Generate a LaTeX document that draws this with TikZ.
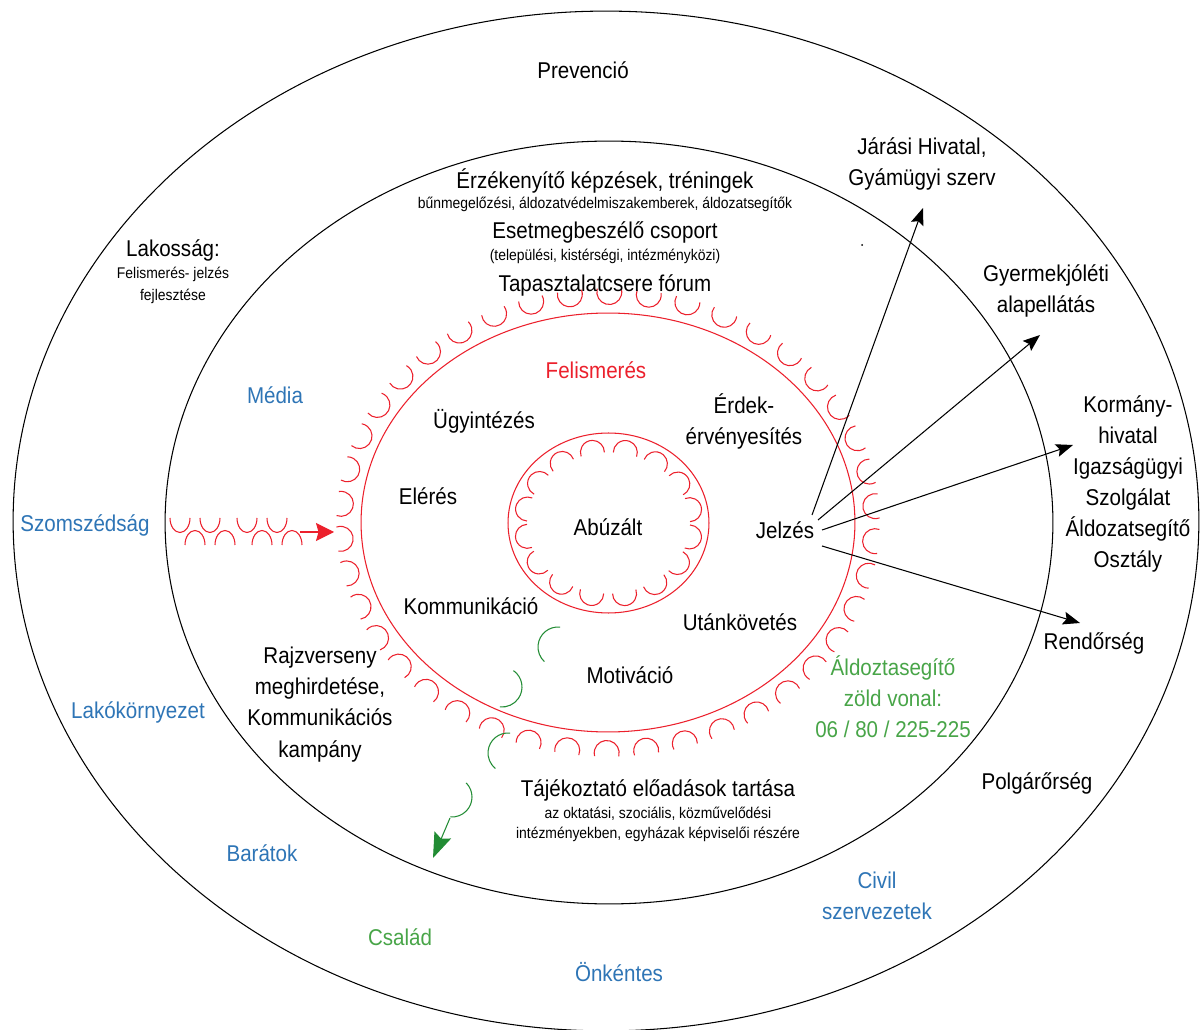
\documentclass[tikz,border=0pt]{standalone}
\usepackage{fontspec}
\setmainfont{Liberation Sans}[FakeStretch=0.9]
\usetikzlibrary{arrows.meta}
\definecolor{myblue}{RGB}{46,117,182}
\definecolor{myred}{RGB}{236,32,44}
\definecolor{mygreen}{RGB}{72,165,72}
\definecolor{dgreen}{RGB}{34,140,52}
\begin{document}
\begin{tikzpicture}[x=0.02cm,y=0.02cm,
  lab/.style={inner sep=0pt, font=\fontsize{13}{17.7}\selectfont, align=center},
  sm/.style={inner sep=0pt, font=\fontsize{8.8}{11.3}\selectfont, align=center},
  bl/.style={lab, text=myblue},
  rd/.style={lab, text=myred},
  gr/.style={lab, text=mygreen},
  ring/.style={draw=black, line width=0.6pt},
  redring/.style={draw=myred, line width=0.6pt},
  cup/.style={draw=myred, line width=0.6pt},
  gcup/.style={draw=dgreen, line width=0.6pt},
  arr/.style={draw=black, line width=0.6pt, -{Stealth[length=0.34cm,width=0.26cm,inset=0.06cm]}}
]
\useasboundingbox (0,0) rectangle (1201,-1030);
\clip (0,0) rectangle (1201,-1030);
\fill[white] (0,0) rectangle (1201,-1030);

% rings
\draw[ring] (606,-521) ellipse [x radius=11.86cm, y radius=10.2cm];
\draw[ring] (609,-522.5) ellipse [x radius=8.88cm, y radius=7.63cm];
\draw[redring] (608,-522.5) ellipse [x radius=4.94cm, y radius=4.19cm];
\draw[redring] (608.5,-523) ellipse [x radius=2.01cm, y radius=1.8cm];

% outer scallops (open outward)
\foreach \i in {0,...,41}{
  \pgfmathsetmacro\t{\i*360/42+4}
  \pgfmathsetmacro\ph{atan2(247*sin(\t),209.5*cos(\t))}
  \pgfmathsetmacro\cx{608+247*cos(\t)+21*cos(\ph)}
  \pgfmathsetmacro\cy{-522.5+209.5*sin(\t)+21*sin(\ph)}
  \pgfmathsetmacro\sa{\ph+180-105}
  \pgfmathsetmacro\ea{\ph+180+105}
  \draw[cup] (\cx,\cy) ++(\sa:0.25cm) arc[start angle=\sa, end angle=\ea, radius=0.25cm];
}
% inner scallops (open inward)
\foreach \i in {0,...,15}{
  \pgfmathsetmacro\t{\i*22.5+11}
  \pgfmathsetmacro\ph{atan2(100.5*sin(\t),90*cos(\t))}
  \pgfmathsetmacro\cx{608.5+100.5*cos(\t)-18*cos(\ph)}
  \pgfmathsetmacro\cy{-523+90*sin(\t)-18*sin(\ph)}
  \pgfmathsetmacro\sa{\ph-100}
  \pgfmathsetmacro\ea{\ph+100}
  \draw[cup] (\cx,\cy) ++(\sa:0.24cm) arc[start angle=\sa, end angle=\ea, radius=0.24cm];
}

% red wavy arrow from the left
\foreach \x in {180,210,247,277}{
  \draw[cup] (\x-10,-518) arc[start angle=180, end angle=360, x radius=0.2cm, y radius=0.29cm];
}
\foreach \x in {195,225,262,292}{
  \draw[cup] (\x-10,-545) arc[start angle=180, end angle=0, x radius=0.2cm, y radius=0.29cm];
}
\coordinate (ra) at (300,-532);
\coordinate (rb) at (334,-532);
\draw[draw=myred, line width=0.6pt, -{Stealth[length=0.36cm,width=0.36cm,inset=0.05cm]}, color=myred] (ra) -- (rb);

% green wavy arrow
\draw[gcup] (558,-647) ++(84:0.4cm) arc[start angle=84, end angle=227, radius=0.4cm];
\draw[gcup] (502,-687) ++(55:0.4cm) arc[start angle=55, end angle=-96, radius=0.4cm];
\draw[gcup] (508,-753) ++(84:0.4cm) arc[start angle=84, end angle=231, radius=0.4cm];
\draw[gcup] (452,-797) ++(45:0.4cm) arc[start angle=45, end angle=-95, radius=0.4cm];
\coordinate (ga) at (450,-818);
\coordinate (gb) at (433,-858);
\draw[draw=dgreen, line width=0.6pt, color=dgreen, -{Stealth[length=0.5cm,width=0.36cm,inset=0.08cm]}] (ga) -- (gb);

% small dot
\fill (862,-245) circle[radius=0.02cm];

% texts outer ring
\node[lab] (prev) at (583,-70) {Prevenció};
\node[lab] (lak) at (173,-250) {Lakosság:};
\node[sm] (lak2) at (173,-274) {Felismerés- jelzés};
\node[sm] (lak3) at (173,-296) {fejlesztése};
\node[bl] (szom) at (85,-525) {Szomszédság};
\node[bl] (lako) at (138,-712) {Lakókörnyezet};
\node[bl] (bar) at (262,-853) {Barátok};
\node[gr] (csal) at (400,-937) {Család};
\node[bl] (onk) at (619,-972) {Önkéntes};
\node[bl] (civil) at (877,-896) {Civil\\szervezetek};
\node[lab] (polg) at (1037,-783) {Polgárőrség};
\node[lab] (rend) at (1094,-643) {Rendőrség};
\node[lab] (korm) at (1128,-484) {Kormány-\\hivatal\\Igazságügyi\\Szolgálat\\Áldozatsegítő\\Osztály};
\node[lab] (gyer) at (1046,-291) {Gyermekjóléti\\alapellátás};
\node[lab] (jar) at (922,-164) {Járási Hivatal,\\Gyámügyi szerv};

% texts middle ring
\node[bl] (media) at (275,-395) {Média};
\node[lab] (erz) at (605,-181) {Érzékenyítő képzések, tréningek};
\node[sm] (erz2) at (605,-204) {bűnmegelőzési, áldozatvédelmiszakemberek, áldozatsegítők};
\node[lab] (eset) at (605,-232) {Esetmegbeszélő csoport};
\node[sm] (eset2) at (605,-256) {(települési, kistérségi, intézményközi)};
\node[lab] (tap) at (605,-285) {Tapasztalatcsere fórum};
\node[lab] (rajz) at (320,-704.5) {Rajzverseny\\meghirdetése,\\Kommunikációs\\kampány};
\node[gr] (zold) at (893,-696.5) {Áldoztasegítő\\zöld vonal:\\06 / 80 / 225-225};
\node[lab] (taj) at (658,-790) {Tájékoztató előadások tartása};
\node[sm] (taj2) at (658,-814) {az oktatási, szociális, közművelődési};
\node[sm] (taj3) at (658,-834) {intézményekben, egyházak képviselői részére};

% texts inside red ring
\node[rd] (fel) at (596,-370) {Felismerés};
\node[lab] (ugy) at (484,-421) {Ügyintézés};
\node[lab] (erd) at (744,-421.5) {Érdek-\\érvényesítés};
\node[lab] (eler) at (428,-496) {Elérés};
\node[lab] (abu) at (608,-527) {Abúzált};
\node[lab] (jel) at (785,-530) {Jelzés};
\node[lab] (komm) at (471,-606) {Kommunikáció};
\node[lab] (utan) at (740,-622) {Utánkövetés};
\node[lab] (mot) at (630,-675) {Motiváció};

% arrows from Jelzés
\coordinate (js1) at (812,-515);
\coordinate (js2) at (818,-520);
\coordinate (js3) at (822,-530);
\coordinate (js4) at (822,-546);
\coordinate (je1) at (923,-208);
\coordinate (je2) at (1040,-335);
\coordinate (je3) at (1073,-445);
\coordinate (je4) at (1080,-623);
\draw[arr] (js1) -- (je1);
\draw[arr] (js2) -- (je2);
\draw[arr] (js3) -- (je3);
\draw[arr] (js4) -- (je4);
\end{tikzpicture}
\end{document}
